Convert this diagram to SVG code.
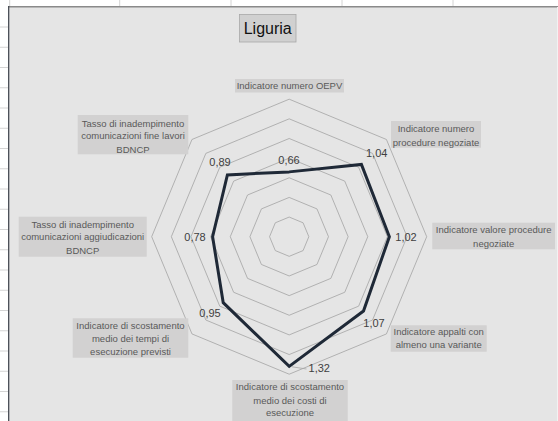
<svg xmlns="http://www.w3.org/2000/svg" width="558" height="421" viewBox="0 0 558 421">
  <style>
    .cell { stroke: #d4d4d4; stroke-width: 1; }
    .ring { fill: none; stroke: #a3a3a3; stroke-width: 0.8; }
    .series { fill: none; stroke: #1f2937; stroke-width: 3; stroke-linejoin: miter; }
    .cat-box { fill: #d2d1d1; }
    .cat { font-family: "Liberation Sans", Arial, sans-serif; font-size: 9.5px; fill: #595959; text-anchor: middle; }
    .val { font-family: "Liberation Sans", Arial, sans-serif; font-size: 11px; fill: #404040; text-anchor: middle; }
    .title { font-family: "Liberation Sans", Arial, sans-serif; font-size: 16px; fill: #111111; text-anchor: middle; }
  </style>

  <!-- worksheet background with cell grid -->
  <rect x="0" y="0" width="558" height="421" fill="#ffffff"/>
  <g id="sheet-grid">
    <line class="cell" x1="9.7" y1="0" x2="9.7" y2="6"/>
    <line class="cell" x1="119.7" y1="0" x2="119.7" y2="6"/>
    <line class="cell" x1="231" y1="0" x2="231" y2="6"/>
    <line class="cell" x1="342" y1="0" x2="342" y2="6"/>
    <line class="cell" x1="453" y1="0" x2="453" y2="6"/>
    <line class="cell" x1="0" y1="27" x2="8" y2="27"/>
    <line class="cell" x1="0" y1="47.25" x2="8" y2="47.25"/>
    <line class="cell" x1="0" y1="67.5" x2="8" y2="67.5"/>
    <line class="cell" x1="0" y1="87.75" x2="8" y2="87.75"/>
    <line class="cell" x1="0" y1="108" x2="8" y2="108"/>
    <line class="cell" x1="0" y1="128.25" x2="8" y2="128.25"/>
    <line class="cell" x1="0" y1="148.5" x2="8" y2="148.5"/>
    <line class="cell" x1="0" y1="168.75" x2="8" y2="168.75"/>
    <line class="cell" x1="0" y1="189" x2="8" y2="189"/>
    <line class="cell" x1="0" y1="209.25" x2="8" y2="209.25"/>
    <line class="cell" x1="0" y1="229.5" x2="8" y2="229.5"/>
    <line class="cell" x1="0" y1="249.75" x2="8" y2="249.75"/>
    <line class="cell" x1="0" y1="270" x2="8" y2="270"/>
    <line class="cell" x1="0" y1="290.25" x2="8" y2="290.25"/>
    <line class="cell" x1="0" y1="310.5" x2="8" y2="310.5"/>
    <line class="cell" x1="0" y1="330.75" x2="8" y2="330.75"/>
    <line class="cell" x1="0" y1="351" x2="8" y2="351"/>
    <line class="cell" x1="0" y1="371.25" x2="8" y2="371.25"/>
    <line class="cell" x1="0" y1="391.5" x2="8" y2="391.5"/>
    <line class="cell" x1="0" y1="411.75" x2="8" y2="411.75"/>
  </g>

  <!-- chart area -->
  <rect x="8.7" y="6.7" width="560" height="430" fill="#e5e5e5"/>
  <line x1="8.7" y1="6.7" x2="558" y2="6.7" stroke="#8a8a8a" stroke-width="1.4"/>
  <line x1="8.7" y1="6" x2="8.7" y2="421" stroke="#3a3f47" stroke-width="1.2"/>
  <line x1="557.5" y1="7" x2="557.5" y2="421" stroke="#f2f2f2" stroke-width="1"/>

  <!-- title -->
  <g id="title">
    <rect x="239.5" y="14.5" width="56.5" height="27.5" fill="#d0d0d0" stroke="#a8a8a8" stroke-width="0.8"/>
    <text class="title" x="267.7" y="34">Liguria</text>
  </g>

  <!-- radar grid: 7 rings, 0.2 steps up to 1.4 -->
  <g id="grid" transform="translate(289.2,236.7)">
    <polygon class="ring" points="0,-19.64 13.89,-13.89 19.64,0 13.89,13.89 0,19.64 -13.89,13.89 -19.64,0 -13.89,-13.89"/>
    <polygon class="ring" points="0,-39.29 27.78,-27.78 39.29,0 27.78,27.78 0,39.29 -27.78,27.78 -39.29,0 -27.78,-27.78"/>
    <polygon class="ring" points="0,-58.93 41.67,-41.67 58.93,0 41.67,41.67 0,58.93 -41.67,41.67 -58.93,0 -41.67,-41.67"/>
    <polygon class="ring" points="0,-78.57 55.56,-55.56 78.57,0 55.56,55.56 0,78.57 -55.56,55.56 -78.57,0 -55.56,-55.56"/>
    <polygon class="ring" points="0,-98.21 69.45,-69.45 98.21,0 69.45,69.45 0,98.21 -69.45,69.45 -98.21,0 -69.45,-69.45"/>
    <polygon class="ring" points="0,-117.86 83.34,-83.34 117.86,0 83.34,83.34 0,117.86 -83.34,83.34 -117.86,0 -83.34,-83.34"/>
    <polygon class="ring" points="0,-137.5 97.23,-97.23 137.5,0 97.23,97.23 0,137.5 -97.23,97.23 -137.5,0 -97.23,-97.23"/>
  </g>

  <!-- data series -->
  <g id="series" transform="translate(289.2,236.7)">
    <polygon class="series" points="0,-64.82 72.22,-72.22 100.17,0 74.30,74.30 0,129.64 -65.97,65.97 -76.60,0 -61.81,-61.81"/>
  </g>

  <!-- connectors: data label leader -->
  <g id="connectors">
    <line x1="292" y1="366.8" x2="306.5" y2="369" stroke="#a6a6a6" stroke-width="0.8"/>
  </g>

  <!-- data labels -->
  <g id="values">
    <text class="val" x="289" y="164">0,66</text>
    <text class="val" x="376.7" y="157.3">1,04</text>
    <text class="val" x="406" y="241.3">1,02</text>
    <text class="val" x="374" y="326.7">1,07</text>
    <text class="val" x="319.3" y="372.3">1,32</text>
    <text class="val" x="210" y="317.3">0,95</text>
    <text class="val" x="195" y="241.3">0,78</text>
    <text class="val" x="220" y="165.7">0,89</text>
  </g>

  <!-- category labels -->
  <g id="cat-oepv">
    <rect class="cat-box" x="235" y="79" width="109" height="13.5"/>
    <text class="cat" x="289.5" y="89">Indicatore numero OEPV</text>
  </g>
  <g id="cat-num-negoziate">
    <rect class="cat-box" x="391" y="121" width="90" height="26.7"/>
    <text class="cat" x="436" y="132">Indicatore numero</text>
    <text class="cat" x="436" y="145.6">procedure negoziate</text>
  </g>
  <g id="cat-val-negoziate">
    <rect class="cat-box" x="432.3" y="222.7" width="122.7" height="26.6"/>
    <text class="cat" x="493.7" y="233.4">Indicatore valore procedure</text>
    <text class="cat" x="493.7" y="247">negoziate</text>
  </g>
  <g id="cat-varianti">
    <rect class="cat-box" x="390.7" y="325.3" width="96" height="26.4"/>
    <text class="cat" x="438.7" y="335.3">Indicatore appalti con</text>
    <text class="cat" x="438.7" y="348.2">almeno una variante</text>
  </g>
  <g id="cat-costi">
    <rect class="cat-box" x="232.3" y="380" width="115.4" height="41"/>
    <text class="cat" x="290" y="390.2">Indicatore di scostamento</text>
    <text class="cat" x="290" y="403.5">medio dei costi di</text>
    <text class="cat" x="290" y="416.2">esecuzione</text>
  </g>
  <g id="cat-tempi">
    <rect class="cat-box" x="72.7" y="318.3" width="115.6" height="39.4"/>
    <text class="cat" x="130.5" y="328.5">Indicatore di scostamento</text>
    <text class="cat" x="130.5" y="342">medio dei tempi di</text>
    <text class="cat" x="130.5" y="354.8">esecuzione previsti</text>
  </g>
  <g id="cat-aggiudicazioni">
    <rect class="cat-box" x="18.7" y="216.7" width="128" height="40"/>
    <text class="cat" x="82.7" y="227.5">Tasso di inadempimento</text>
    <text class="cat" x="82.7" y="240.3">comunicazioni aggiudicazioni</text>
    <text class="cat" x="82.7" y="253.5">BDNCP</text>
  </g>
  <g id="cat-fine-lavori">
    <rect class="cat-box" x="77.7" y="115" width="110.6" height="39.3"/>
    <text class="cat" x="133" y="126.8">Tasso di inadempimento</text>
    <text class="cat" x="133" y="139.4">comunicazioni fine lavori</text>
    <text class="cat" x="133" y="152.5">BDNCP</text>
  </g>
</svg>
